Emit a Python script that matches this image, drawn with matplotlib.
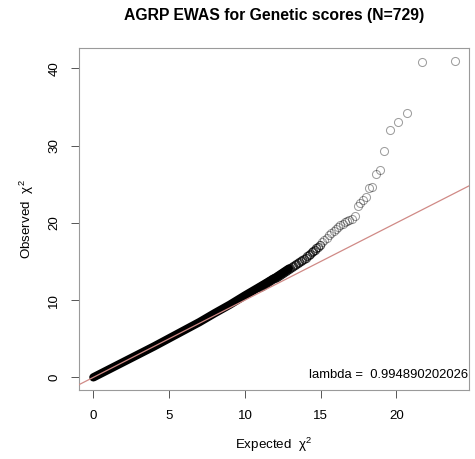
import matplotlib.pyplot as plt

plt.rcParams['font.family'] = ['Liberation Sans', 'DejaVu Sans']
plt.rcParams['mathtext.fontset'] = 'custom'
plt.rcParams['mathtext.rm'] = 'Liberation Sans'
plt.rcParams['mathtext.it'] = 'Liberation Sans'

# centre line of the solid black band (very many overlapping points)
band_expected = [0, 1, 2, 3, 4, 5, 6, 7, 8, 9, 10, 11, 12, 12.9]
band_observed = [0, 1.0, 2.0, 3.0, 4.0, 5.05, 6.1, 7.15, 8.3, 9.4, 10.6, 11.75, 12.9, 14.08]

# points where the band thins out, and the upper tail
tail_expected = [11.0, 11.1, 11.2, 11.3, 11.4, 11.5, 11.6, 11.7, 11.8, 11.9,
                 12.0, 12.1, 12.2, 12.3, 12.4, 12.5, 12.6, 12.7, 12.8, 12.9,
                 13.0, 13.1, 13.2, 13.3, 13.4, 13.5, 13.6, 13.7, 13.8, 13.9,
                 14.0, 14.1, 14.2, 14.3, 14.4, 14.5, 14.6, 14.7, 14.8, 14.95,
                 15.1, 15.25, 15.4, 15.55, 15.7, 15.85, 16.0, 16.15, 16.3, 16.45,
                 16.6, 16.75, 16.9, 17.05, 17.24, 17.44, 17.6, 17.79, 17.97, 18.19,
                 18.41, 18.65, 18.91, 19.2, 19.6, 20.09, 20.73, 21.72, 23.84]
tail_observed = [11.75, 11.87, 11.99, 12.1, 12.22, 12.34, 12.46, 12.58, 12.7, 12.8,
                 12.9, 13.03, 13.15, 13.28, 13.42, 13.55, 13.68, 13.82, 13.95, 14.08,
                 14.2, 14.33, 14.45, 14.58, 14.7, 14.83, 14.95, 15.05, 15.18, 15.32,
                 15.5, 15.68, 15.85, 16.02, 16.2, 16.38, 16.55, 16.72, 16.9, 17.15,
                 17.5, 17.8, 18.1, 18.4, 18.7, 19.0, 19.25, 19.5, 19.7, 19.9,
                 20.05, 20.2, 20.35, 20.5, 20.9, 22.2, 22.6, 23.0, 23.3, 24.55,
                 24.6, 26.27, 26.88, 29.25, 31.97, 33.05, 34.2, 40.83, 41.0]

lambda_txt = '0.994890202026'

fig = plt.figure(figsize=(4.75, 4.59), dpi=100)
ax = fig.add_axes([0.1663, 0.1503, 0.8211, 0.7451])

ax.plot(band_expected, band_observed, color='black', lw=6, solid_capstyle='round', zorder=2)

# denser stretch of the tail is darker, like the overlapping points
dense = [i for i, x in enumerate(tail_expected) if x < 15]
sparse = [i for i, x in enumerate(tail_expected) if x >= 15]
ax.plot([tail_expected[i] for i in dense], [tail_observed[i] for i in dense], 'o',
        mfc='none', mec=(0, 0, 0, 0.65), ms=5.8, mew=0.85, zorder=3)
ax.plot([tail_expected[i] for i in sparse], [tail_observed[i] for i in sparse], 'o',
        mfc='none', mec=(0, 0, 0, 0.38), ms=5.8, mew=0.75, zorder=3)

# y = x reference line
ax.axline((0, 0), slope=1, color='#d08a86', lw=0.9, zorder=4)

ax.set_xlim(-0.95, 24.79)
ax.set_ylim(-1.64, 42.64)
ax.set_xticks([0, 5, 10, 15, 20])
ax.set_yticks([0, 10, 20, 30, 40])
ax.tick_params(labelsize=9.6, length=5.5, width=0.7, color='#555555')
ax.tick_params(axis='x', pad=9)
ax.tick_params(axis='y', pad=8)
for lab in ax.get_yticklabels():
    lab.set_rotation(90)
    lab.set_va('center')
for s in ax.spines.values():
    s.set_color('#9a9a9a')
    s.set_linewidth(0.8)

ax.set_xlabel(r'Expected  $\chi^2$', fontsize=9.6, labelpad=10)
ax.set_ylabel(r'Observed  $\chi^2$', fontsize=9.6, labelpad=9)
ax.text(0.999, 0.025, 'lambda =  ' + lambda_txt, transform=ax.transAxes,
        ha='right', va='bottom', fontsize=9.4)

fig.suptitle('AGRP EWAS for Genetic scores (N=729)', x=0.577, y=0.982,
             fontsize=11.3, fontweight='bold')

fig.savefig('out.png', dpi=100)
